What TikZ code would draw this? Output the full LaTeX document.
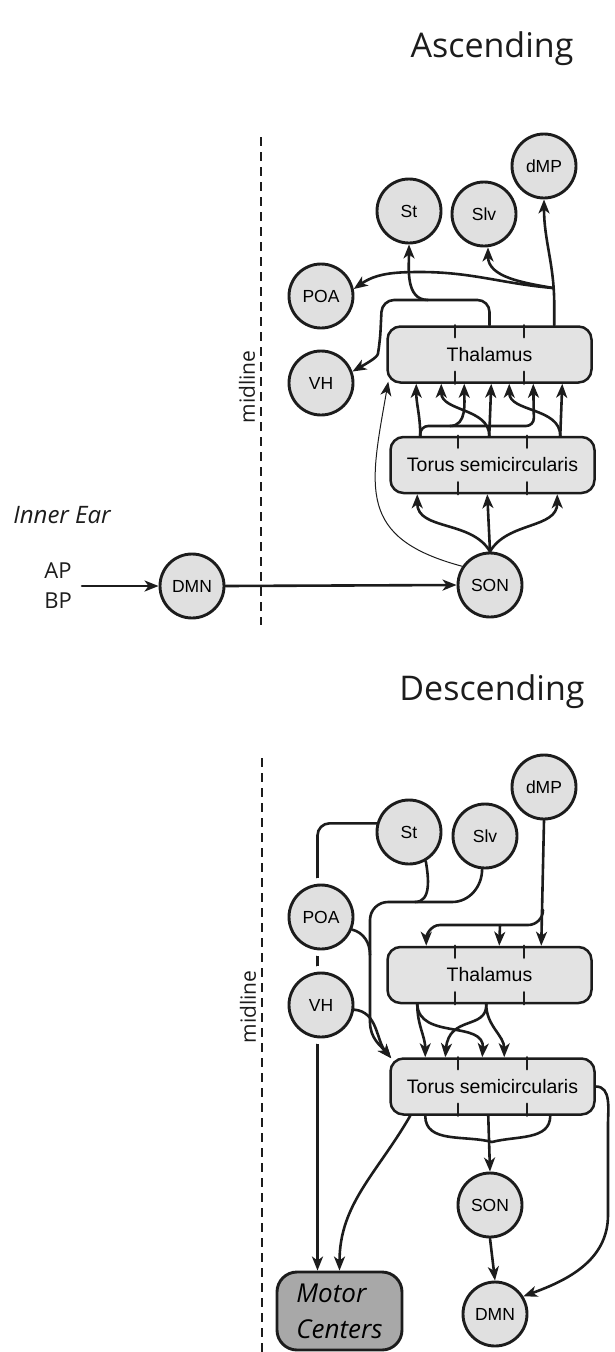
\documentclass[tikz,border=0pt]{standalone}
\usepackage{fontspec}
\setmainfont{Liberation Sans}
\newfontfamily\headfont{Open Sans}
\usetikzlibrary{arrows.meta,calc}

\definecolor{ink}{RGB}{28,28,28}
\definecolor{nucfill}{RGB}{224,224,224}
\definecolor{boxfill}{RGB}{227,227,227}
\definecolor{motorfill}{RGB}{168,168,168}

\begin{document}
\begin{tikzpicture}[x=1pt, y=-1pt, >={Stealth[length=14pt,width=11pt,inset=4pt]}, line join=round, line cap=round,
	nucleus/.style={circle, draw=ink, line width=2.9pt, fill=nucfill, minimum size=64pt, inner sep=0pt, font=\fontsize{17.5}{20}\selectfont},
	region/.style={draw=ink, line width=2.5pt, fill=boxfill, rounded corners=13pt, minimum width=204pt, minimum height=56pt, inner sep=0pt, font=\fontsize{19.5}{22}\selectfont},
	motor/.style={draw=ink, line width=2.9pt, fill=motorfill, rounded corners=20pt, minimum width=125pt, minimum height=78pt, align=left, font=\headfont\itshape\fontsize{26}{36}\selectfont},
	tract/.style={draw=ink, line width=2.6pt},
	thin tract/.style={draw=ink, line width=1pt},
	halo/.style={preaction={draw=white, line width=14pt}},
	midline/.style={draw=ink, line width=2.4pt, dash pattern=on 9pt off 6pt, line cap=butt},
	heading/.style={text=ink, font=\headfont\fontsize{34}{38}\selectfont},
	sidelabel/.style={text=ink, font=\headfont\fontsize{21}{24}\selectfont}]
	\useasboundingbox (0,0) rectangle (614,1352);

	% Headings
	\node[heading, anchor=base] (asctitle) at (492,57) {Ascending};
	\node[heading, anchor=base] (desctitle) at (492,700) {Descending};

	% Midlines
	\draw[midline] (261,137) -- (261,625);
	\node[sidelabel, rotate=90] (ascmid) at (247,387) {midline};
	\draw[midline] (262,758) -- (262,1352);
	\node[sidelabel, rotate=90] (descmid) at (248,1007) {midline};

	% ===== Ascending =====
	\node[nucleus] (admp) at (544,166) {dMP};
	\node[nucleus] (ast) at (409,211) {St};
	\node[nucleus] (aslv) at (484,214) {Slv};
	\node[nucleus] (apoa) at (321,296) {POA};
	\node[nucleus] (avh) at (321,383) {VH};
	\node[region] (athal) at (489.5,354.5) {Thalamus};
	\node[region] (ators) at (492.5,465) {Torus semicircularis};
	\node[nucleus] (ason) at (490,585) {SON};
	\node[nucleus] (admn) at (192,586) {DMN};

	% Inner ear input
	\node[sidelabel, font=\headfont\itshape\fontsize{24}{28}\selectfont] (inear) at (62,515) {Inner Ear};
	\node[sidelabel, align=center, font=\headfont\fontsize{22}{30}\selectfont] (apbp) at (58,586) {AP\\BP};
	\coordinate (apin) at (82,586);
	\draw[tract, ->] (apin) -- (admn.west);
	\draw[tract, ->] (admn.east) -- (ason.west);

	% SON -> torus and thalamus
	\draw[tract, ->] (ason.north) to[out=120, in=-90] ([xshift=28pt]ators.south west);
	\draw[tract, ->] (ason.north) -- ([xshift=98pt]ators.south west);
	\draw[tract, ->] (ason.north) to[out=60, in=-90] ([xshift=168pt]ators.south west);
	\draw[thin tract, ->] (ason.146) to[out=165, in=-100, looseness=1.4] ([xshift=2pt, yshift=2pt]athal.south west);

	% Torus -> thalamus
	\coordinate (atl) at ([xshift=31pt]ators.north west);
	\coordinate (atm) at ([xshift=100pt]ators.north west);
	\coordinate (atr) at ([xshift=171pt]ators.north west);
	\coordinate (atlk) at (450,426);
	\draw[tract, ->] (atl) to[out=90, in=-90] ([xshift=30pt]athal.south west);
	\draw[tract, ->] (atl) [rounded corners=8pt] |- (534,426) -- ([xshift=147pt]athal.south west);
	\draw[tract, ->] (atlk) to[out=0, in=-90] ([xshift=78pt]athal.south west);
	\draw[tract, ->] (atm) -- ([xshift=105pt]athal.south west);
	\draw[tract, ->] (atm) to[out=90, in=-90] ([xshift=55pt]athal.south west);
	\draw[tract, ->] (atr) -- ([xshift=176pt]athal.south west);
	\draw[tract, ->] (atr) to[out=90, in=-90] ([xshift=123pt]athal.south west);

	% Thalamus -> forebrain
	\coordinate (aright) at ([xshift=168pt]athal.north west);
	\coordinate (arj) at (553,288);
	\coordinate (astj) at (428,300);
	\draw[tract, ->] (aright) -- ++(0,-20) to[out=90, in=-90] (admp.south);
	\draw[tract, ->] (arj) to[out=170, in=-90] ([xshift=4pt]aslv.south);
	\draw[tract, ->] (arj) to[out=175, in=0] (420,272) to[out=180, in=35] (apoa.12);
	\draw[tract, ->] (astj) to[out=180, in=-90] (ast.south);
	\draw[tract, ->] (athal.north) [rounded corners=12pt] |- (382,300) -- (380,342) [sharp corners] to[out=-100, in=30] (avh.20);

	% ===== Descending =====
	\node[nucleus] (ddmp) at (544,787) {dMP};
	\node[nucleus] (dst) at (409,832) {St};
	\node[nucleus] (dslv) at (485,836) {Slv};
	\node[region] (dthal) at (489.5,975) {Thalamus};
	\node[region] (dtors) at (492.5,1086.5) {Torus semicircularis};
	\node[nucleus] (dson) at (490,1205) {SON};
	\node[nucleus] (ddmn) at (495,1314) {DMN};
	\node[motor] (dmot) at (339.5,1311) {Motor\\Centers};

	% St -> motor centers, passing behind POA and VH
	\draw[tract, ->] (dst.165) [rounded corners=12pt] -| ([xshift=-22pt]dmot.north);
	\node[nucleus, halo] (dpoa) at (321,917) {POA};
	\node[nucleus, halo] (dvh) at (321,1005) {VH};

	% dMP -> thalamus
	\coordinate (dmj) at (543,910);
	\coordinate (dmk) at (500,925);
	\draw[tract, ->] (ddmp.south) -- ([xshift=155pt]dthal.north west);
	\draw[tract, ->] (dmj) to[out=-90, in=0] (528,925) -- (440,925) to[out=180, in=90] ([xshift=40pt]dthal.north west);
	\draw[tract, ->] (dmk) -- ([xshift=113pt]dthal.north west);

	% St, Slv, POA, VH -> torus
	\draw[tract, ->] (dslv.-95) to[out=-90, in=0] (452,902) -- (388,902) to[out=180, in=90] (370,920) -- (370,1022) to[out=-90, in=130] ([xshift=2pt, yshift=-1pt]dtors.north west);
	\draw[tract] (dst.-60) to[out=-80, in=0] (415,902);
	\draw[tract] (dpoa.-22) to[out=-15, in=90] (370,955);
	\draw[tract, ->] (dvh.-8) to[out=-5, in=130] ([xshift=2pt, yshift=-1pt]dtors.north west);

	% Thalamus -> torus
	\coordinate (dtl) at ([xshift=31pt]dthal.south west);
	\coordinate (dtm) at ([xshift=100pt]dthal.south west);
	\draw[tract, ->] (dtl) to[out=-90, in=90] ([xshift=36pt]dtors.north west);
	\draw[tract, ->] (dtl) .. controls (419,1040) and (485,1020) .. ([xshift=93pt]dtors.north west);
	\draw[tract, ->] (dtm) .. controls (487,1030) and (449,1015) .. ([xshift=56pt]dtors.north west);
	\draw[tract, ->] (dtm) to[out=-90, in=90] ([xshift=115pt]dtors.north west);

	% Torus -> SON -> DMN, torus -> motor
	\coordinate (dsj) at (492,1142);
	\draw[tract] ([xshift=36pt]dtors.south west) to[out=-90, in=165] (dsj);
	\draw[tract] ([xshift=161pt]dtors.south west) to[out=-90, in=15] (dsj);
	\draw[tract, ->] ([xshift=99pt]dtors.south west) -- (dson.north);
	\draw[tract, ->] (dson.south) -- (ddmn.north);
	\draw[tract, ->] (dtors.east) to[out=0, in=90] (608,1125) -- (608,1215) to[out=-90, in=20] (ddmn.32);
	\draw[tract, ->] ([xshift=21pt]dtors.south west) to[out=-120, in=90] (dmot.north);

	% Ticks on the boxes
	\foreach \b in {athal,ators,dthal,dtors}
		\foreach \f in {1,2} {
			\draw[tract] ($(\b.north west)!\f/3!(\b.north east)$) -- ++(0,12);
			\draw[tract] ($(\b.south west)!\f/3!(\b.south east)$) -- ++(0,-12);
		}
\end{tikzpicture}
\end{document}
